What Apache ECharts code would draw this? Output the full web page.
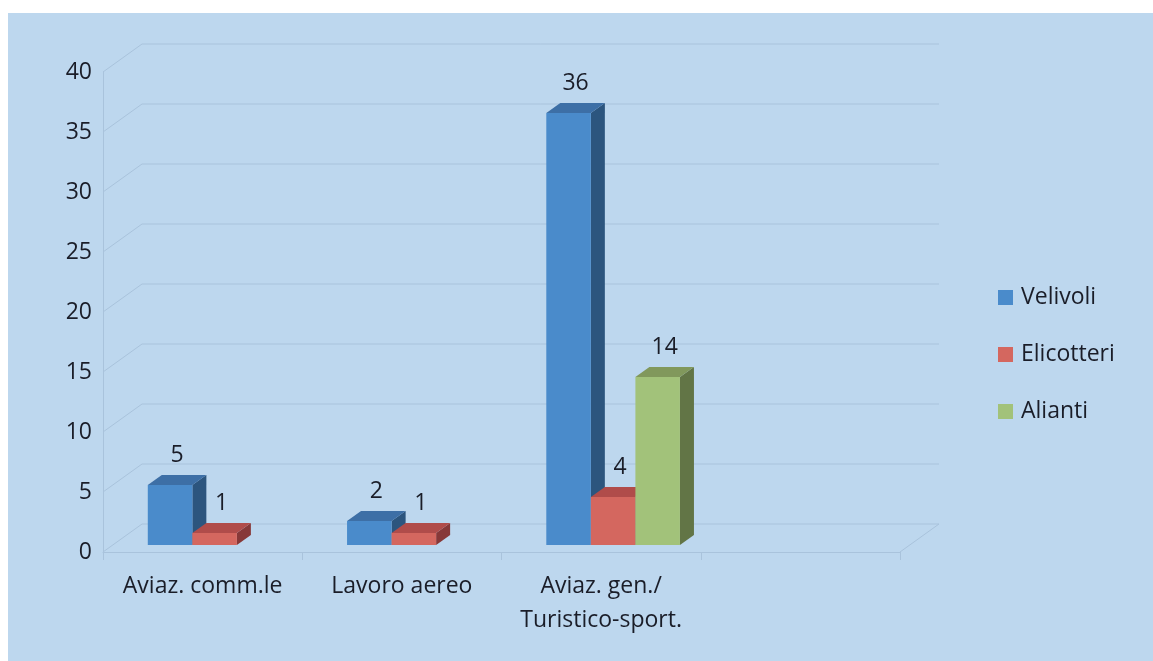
<!DOCTYPE html>
<html>
<head>
<meta charset="utf-8">
<script src="https://cdn.jsdelivr.net/npm/echarts@6/dist/echarts.min.js"></script>
<style>
  html, body { margin: 0; padding: 0; background: #ffffff; }
  #chart { width: 1153px; height: 661px; }
</style>
</head>
<body>
<div id="chart"></div>
<script>
// Categories and counts per aircraft type
const categories = ['Aviaz. comm.le', 'Lavoro aereo', 'Aviaz. gen./\nTuristico-sport.', ''];
const velivoli   = [5, 2, 36, null];
const elicotteri = [1, 1, 4, null];
const alianti    = [null, null, 14, null];
const seriesNames = ['Velivoli', 'Elicotteri', 'Alianti'];
const yTicks = [0, 5, 10, 15, 20, 25, 30, 35, 40];

// Pseudo-3D geometry (pixels)
const WALL_DX = 39, WALL_DY = -28;   // depth of the side wall / floor
const BAR_DX = 12, BAR_DY = -7;      // bars stand mid-depth
const BAR_DEPTH_X = 14, BAR_DEPTH_Y = -10;
const BAR_RATIO = 0.2236;            // bar width as a share of the category band

const FONT = '"Open Sans", "Noto Sans", sans-serif';
const FONT_SIZE = 23;
const TEXT = '#1a1d28';
const GRID = '#a9c3dc';

const palette = [
  { front: '#4a8bcb', top: '#3d6fa6', side: '#2c557e' },
  { front: '#d4675f', top: '#b04c4a', side: '#873838' },
  { front: '#a2c27a', top: '#81985c', side: '#627546' }
];

function barSeries(name, values, idx) {
  const c = palette[idx];
  const data = [];
  values.forEach((v, i) => { if (v != null) data.push([i, v]); });
  return {
    type: 'custom',
    name: name,
    data: data,
    encode: { x: 0, y: 1 },
    itemStyle: { color: c.front },
    z: 3 + idx,
    renderItem: function (params, api) {
      const cat = api.value(0);
      const v = api.value(1);
      const base = api.coord([cat, 0]);
      const top = api.coord([cat, v]);
      const band = api.size([1, 0])[0];
      const w = band * BAR_RATIO;
      const x0 = base[0] - 1.5 * w + idx * w + BAR_DX;
      const x1 = x0 + w;
      const yb = base[1] + BAR_DY;
      const yt = top[1] + BAR_DY;
      const dx = BAR_DEPTH_X, dy = BAR_DEPTH_Y;
      return {
        type: 'group',
        children: [
          { type: 'polygon', shape: { points: [[x1, yt], [x1 + dx, yt + dy], [x1 + dx, yb + dy], [x1, yb]] },
            style: { fill: c.side } },
          { type: 'polygon', shape: { points: [[x0, yt], [x1, yt], [x1 + dx, yt + dy], [x0 + dx, yt + dy]] },
            style: { fill: c.top } },
          { type: 'rect', shape: { x: x0, y: yt, width: w, height: yb - yt },
            style: { fill: c.front } },
          { type: 'text', x: (x0 + x1) / 2 + dx / 2, y: yt + dy - 8,
            style: { text: String(v), fill: TEXT, font: FONT_SIZE + 'px ' + FONT, textAlign: 'center', textVerticalAlign: 'bottom' } }
        ]
      };
    }
  };
}

// Side wall, back wall gridlines and floor edge
const wallSeries = {
  type: 'custom',
  name: 'walls',
  silent: true,
  data: yTicks.map(v => [0, v]),
  encode: { x: 0, y: 1 },
  z: 1,
  renderItem: function (params, api) {
    const cs = params.coordSys;
    const y = api.coord([0, api.value(1)])[1];
    const xl = cs.x, xr = cs.x + cs.width;
    const children = [
      { type: 'polyline', shape: { points: [[xl, y], [xl + WALL_DX, y + WALL_DY], [xr + WALL_DX, y + WALL_DY]] },
        style: { stroke: GRID, lineWidth: 1, fill: null } }
    ];
    if (api.value(1) === 0) {
      children.push({ type: 'line', shape: { x1: xr, y1: y, x2: xr + WALL_DX, y2: y + WALL_DY },
        style: { stroke: GRID, lineWidth: 1 } });
    }
    return { type: 'group', children: children };
  }
};

const chart = echarts.init(document.getElementById('chart'), null, { renderer: 'canvas' });
chart.setOption({
  animation: false,
  backgroundColor: '#ffffff',
  graphic: {
    elements: [
      { type: 'rect', z: -100, silent: true,
        shape: { x: 8, y: 13, width: 1145, height: 648 },
        style: { fill: '#bdd7ee' } }
    ]
  },
  grid: { left: 103, right: 253, top: 72, bottom: 109, containLabel: false },
  legend: {
    data: seriesNames,
    orient: 'vertical',
    left: 993,
    top: 281,
    icon: 'rect',
    itemWidth: 15,
    itemHeight: 15,
    itemGap: 34,
    textStyle: { fontSize: FONT_SIZE, fontFamily: FONT, color: TEXT, padding: [0, 0, 0, 3] }
  },
  xAxis: {
    type: 'category',
    data: categories,
    axisLine: { lineStyle: { color: GRID } },
    axisTick: { show: true, length: 8, lineStyle: { color: GRID } },
    axisLabel: { fontSize: FONT_SIZE, fontFamily: FONT, color: TEXT, margin: 17, lineHeight: 34, interval: 0 },
    splitLine: { show: false }
  },
  yAxis: {
    type: 'value',
    min: 0,
    max: 40,
    interval: 5,
    axisLine: { show: true, lineStyle: { color: GRID } },
    axisTick: { show: false },
    axisLabel: { fontSize: FONT_SIZE, fontFamily: FONT, color: TEXT, margin: 11 },
    splitLine: { show: false }
  },
  series: [
    wallSeries,
    barSeries(seriesNames[0], velivoli, 0),
    barSeries(seriesNames[1], elicotteri, 1),
    barSeries(seriesNames[2], alianti, 2)
  ]
});
</script>
</body>
</html>
